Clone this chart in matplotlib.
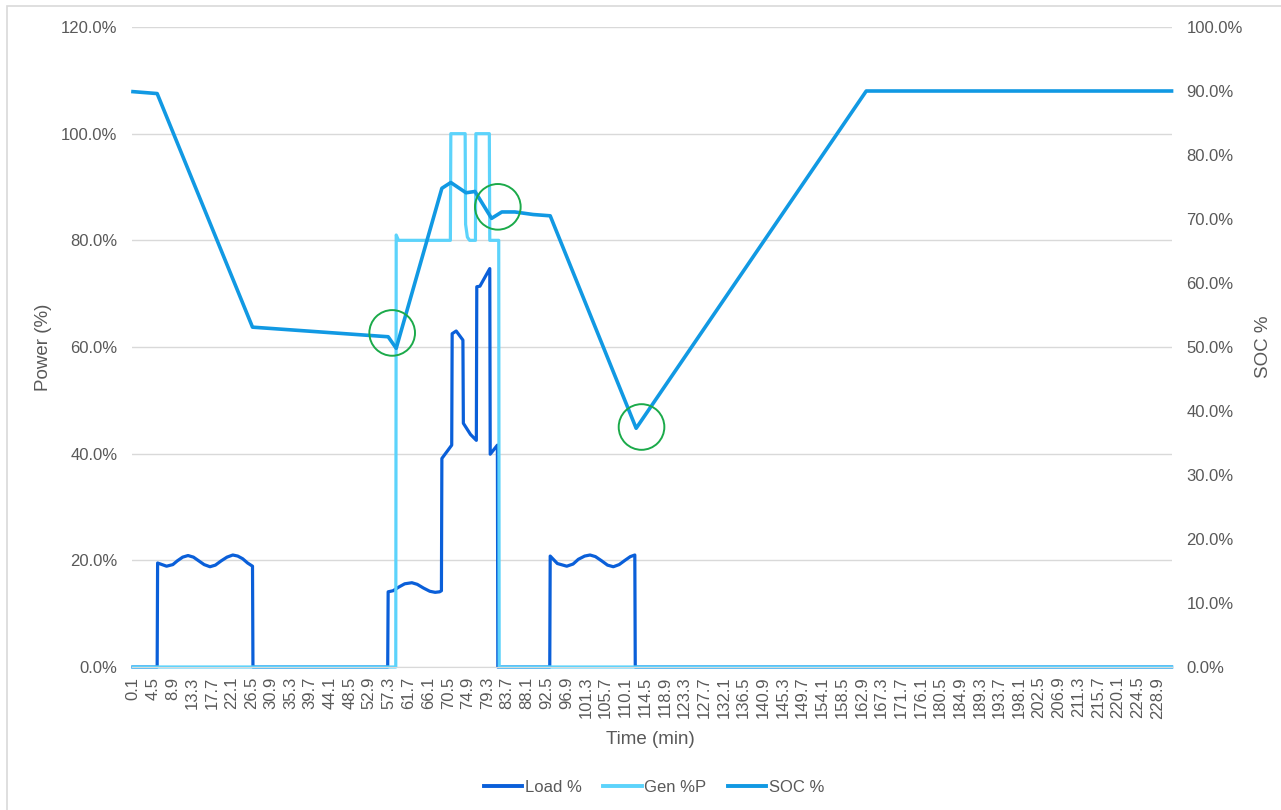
import matplotlib
matplotlib.use("Agg")
import matplotlib.pyplot as plt
from matplotlib.lines import Line2D
from matplotlib.patches import Rectangle

plt.rcParams['font.family'] = ['Liberation Sans', 'DejaVu Sans']

# ---- data (minutes, percent) ----
load_time = [0.1, 5.5, 5.6, 7.6, 9.0, 10.0, 11.2, 12.4, 13.6, 14.8, 16.0, 17.3,
             18.5, 19.8, 21.1, 22.4, 23.5, 24.6, 25.7, 26.8, 26.9,
             57.0, 57.1, 58.2, 59.5, 60.8, 62.4, 63.6, 65.0, 66.4, 67.6, 68.6, 69.0,
             69.1, 71.3, 71.4, 72.3, 73.8, 73.9, 75.5, 76.8, 76.9, 77.6, 79.8,
             79.9, 81.5, 81.6,
             93.2, 93.3, 94.9, 97.0, 98.4, 99.6, 101.0, 102.2, 103.4, 104.8, 106.1,
             107.4, 108.7, 110.0, 111.2, 112.2, 112.3, 232.1]
load_pct = [0.0, 0.0, 19.5, 18.9, 19.2, 19.9, 20.6, 20.9, 20.6, 19.9, 19.2, 18.8,
            19.1, 19.9, 20.6, 21.0, 20.8, 20.3, 19.5, 18.9, 0.0,
            0.0, 14.1, 14.3, 15.0, 15.6, 15.8, 15.5, 14.8, 14.2, 14.0, 14.1, 14.3,
            39.1, 41.6, 62.5, 63.0, 61.3, 45.7, 43.6, 42.5, 71.3, 71.4, 74.7,
            39.9, 41.6, 0.0,
            0.0, 20.8, 19.4, 18.9, 19.3, 20.2, 20.8, 21.0, 20.7, 19.9, 19.1,
            18.8, 19.2, 20.0, 20.7, 21.0, 0.0, 0.0]

gen_time = [0.1, 58.8, 58.9, 59.4, 71.0, 71.1, 74.3, 74.4, 74.8, 75.3, 76.6, 76.7,
            79.7, 79.8, 81.8, 81.9, 232.1]
gen_pct = [0.0, 0.0, 81.0, 80.0, 80.0, 100.0, 100.0, 83.0, 80.6, 80.0, 80.0, 100.0,
           100.0, 80.0, 80.0, 0.0, 0.0]

soc_time = [0.1, 5.5, 26.8, 57.1, 58.9, 69.1, 71.1, 74.5, 76.5, 80.2, 82.5, 85.4,
            89.5, 93.3, 112.5, 163.9, 232.1]
soc_pct = [89.9, 89.6, 53.1, 51.6, 49.8, 74.8, 75.7, 74.1, 74.3, 70.1, 71.1, 71.1,
           70.7, 70.5, 37.3, 90.0, 90.0]

# SOC turning points that are ringed on the chart
marked_time = [58.0, 81.6, 113.7]
marked_soc = [52.2, 71.9, 37.5]

time_tick_labels = ["0.1", "4.5", "8.9", "13.3", "17.7", "22.1", "26.5", "30.9",
                    "35.3", "39.7", "44.1", "48.5", "52.9", "57.3", "61.7", "66.1",
                    "70.5", "74.9", "79.3", "83.7", "88.1", "92.5", "96.9", "101.3",
                    "105.7", "110.1", "114.5", "118.9", "123.3", "127.7", "132.1",
                    "136.5", "140.9", "145.3", "149.7", "154.1", "158.5", "162.9",
                    "167.3", "171.7", "176.1", "180.5", "184.9", "189.3", "193.7",
                    "198.1", "202.5", "206.9", "211.3", "215.7", "220.1", "224.5",
                    "228.9"]
power_ticks = [0, 20, 40, 60, 80, 100, 120]
soc_ticks = [0, 10, 20, 30, 40, 50, 60, 70, 80, 90, 100]

# ---- styling ----
TEXT = '#595959'
GRID = '#D9D9D9'
LOAD_C = '#0A5FD9'
GEN_C = '#5CD3FB'
SOC_C = '#1199E3'
RING_C = '#1BAA4A'
LW = 2.3

W, H = 1281, 810
fig = plt.figure(figsize=(W / 100, H / 100), dpi=100)
fig.patch.set_facecolor('white')

# outer chart frame
fig.patches.append(Rectangle((7 / W, -0.05), 1.1, 1 - 6 / H + 0.05,
                             transform=fig.transFigure, fill=False,
                             edgecolor=GRID, linewidth=1.2))

ax = fig.add_axes([132 / W, (H - 667) / H, (1172 - 132) / W, (667 - 27) / H])
ax2 = ax.twinx()

ax.plot(load_time, load_pct, color=LOAD_C, lw=LW, clip_on=False,
        solid_joinstyle='round', label='Load %')
ax.plot(gen_time, gen_pct, color=GEN_C, lw=LW, clip_on=False,
        solid_joinstyle='round', label='Gen %P')
ax2.plot(soc_time, soc_pct, color=SOC_C, lw=LW + 0.3, clip_on=False,
         solid_joinstyle='round', label='SOC %')
ax2.scatter(marked_time, marked_soc, s=1080, facecolors='none',
            edgecolors=RING_C, linewidths=1.4, zorder=5, clip_on=False)

ax.set_xlim(-0.12, 232.2)
ax.set_ylim(0, 120)
ax2.set_ylim(0, 100)

ax.set_yticks(power_ticks)
ax.set_yticklabels([f'{v:.1f}%' for v in power_ticks])
ax2.set_yticks(soc_ticks)
ax2.set_yticklabels([f'{v:.1f}%' for v in soc_ticks])
ax.set_xticks([float(s) for s in time_tick_labels])
ax.set_xticklabels(time_tick_labels, rotation=90, ha='center', va='top')

ax.tick_params(axis='y', length=0, pad=10.5, labelsize=12, labelcolor=TEXT)
ax2.tick_params(axis='y', length=0, pad=10.5, labelsize=12, labelcolor=TEXT)
ax.tick_params(axis='x', length=0, pad=7, labelsize=12, labelcolor=TEXT)

ax.yaxis.grid(True, color=GRID, lw=1)
ax.set_axisbelow(True)
for name in ['top', 'left', 'right']:
    ax.spines[name].set_visible(False)
    ax2.spines[name].set_visible(False)
ax2.spines['bottom'].set_visible(False)
ax.spines['bottom'].set_color(GRID)

fig.text(650 / W, 1 - 740 / H, 'Time (min)', ha='center', va='center',
         fontsize=13.5, color=TEXT)
fig.text(44 / W, 1 - 347 / H, 'Power (%)', ha='center', va='center',
         rotation=90, fontsize=13.5, color=TEXT)
fig.text(1264 / W, 1 - 347 / H, 'SOC %', ha='center', va='center',
         rotation=90, fontsize=13.5, color=TEXT)

handles = [Line2D([], [], color=LOAD_C, lw=LW + 0.5),
           Line2D([], [], color=GEN_C, lw=LW + 0.5),
           Line2D([], [], color=SOC_C, lw=LW + 0.5)]
leg = fig.legend(handles, ['Load %', 'Gen %P', 'SOC %'], loc='center',
                 bbox_to_anchor=(654 / W, 1 - 787 / H), ncol=3, frameon=False,
                 fontsize=12, handlelength=2.3, handletextpad=0.15,
                 columnspacing=1.3, borderpad=0)
for t in leg.get_texts():
    t.set_color(TEXT)

fig.savefig('out.png', dpi=100, facecolor='white')
